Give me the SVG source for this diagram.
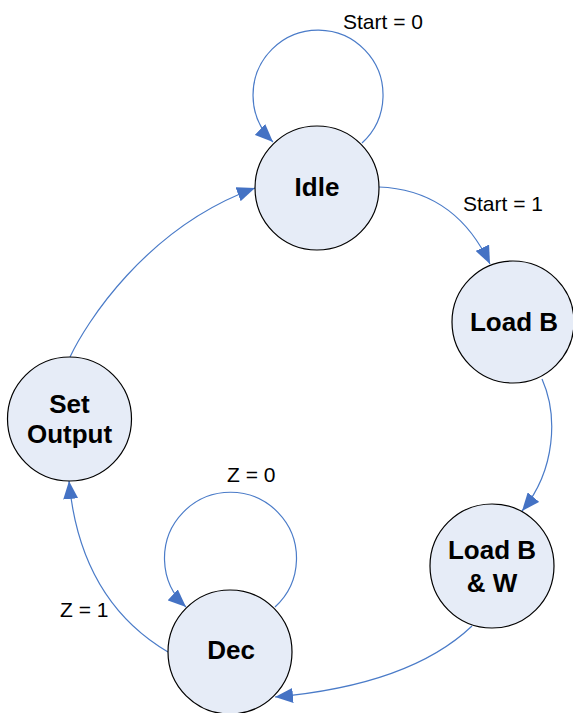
<svg xmlns="http://www.w3.org/2000/svg" width="573" height="713" viewBox="0 0 573 713">
<style>
.node{fill:#E6ECF7;stroke:#000;stroke-width:1.2}
.nl{font-family:"Liberation Sans",Arial,sans-serif;font-size:26px;font-weight:bold;fill:#000;text-anchor:middle}
.el{font-family:"Liberation Sans",Arial,sans-serif;font-size:21px;fill:#000}
.edge{fill:none;stroke:#4A7BC8;stroke-width:1.2;marker-end:url(#arr)}
</style>
<defs>
<marker id="arr" markerUnits="userSpaceOnUse" markerWidth="19" markerHeight="15" refX="18" refY="7.5" orient="auto">
<path d="M0,0 L18,7.5 L0,15 Z" fill="#4472C4"/>
</marker>
</defs>
<rect width="573" height="713" fill="#fff"/>
<g id="connectors">
<path class="edge" d="M 362 143 A 65 65 0 1 0 273 142"/>
<path class="edge" d="M 379 187 Q 455 190 490 264"/>
<path class="edge" d="M 542 379 C 558 415 556 470 522 511"/>
<path class="edge" d="M 472 626 Q 410 685 275 697"/>
<path class="edge" d="M 275 607 A 66 66 0 1 0 186 607"/>
<path class="edge" d="M 168 652 Q 80 600 69 481"/>
<path class="edge" d="M 70 357 C 85 325 145 228 255 188"/>
<text class="el" x="343" y="29">Start = 0</text>
<text class="el" x="463" y="211">Start = 1</text>
<text class="el" x="227" y="482">Z = 0</text>
<text class="el" x="60" y="617">Z = 1</text>
</g>
<g id="idle"><circle class="node" cx="317" cy="188" r="62"/><text class="nl" x="317" y="196">Idle</text></g>
<g id="loadb"><circle class="node" cx="513" cy="322" r="61"/><text class="nl" x="514" y="331">Load B</text></g>
<g id="loadbw"><circle class="node" cx="492" cy="566" r="62"/><text class="nl" x="492" y="559">Load B</text><text class="nl" x="492" y="592">&amp; W</text></g>
<g id="dec"><circle class="node" cx="230" cy="652" r="62"/><text class="nl" x="231" y="659">Dec</text></g>
<g id="setoutput"><circle class="node" cx="69.5" cy="419" r="62"/><text class="nl" x="69.5" y="413">Set</text><text class="nl" x="69.5" y="443">Output</text></g>
</svg>
